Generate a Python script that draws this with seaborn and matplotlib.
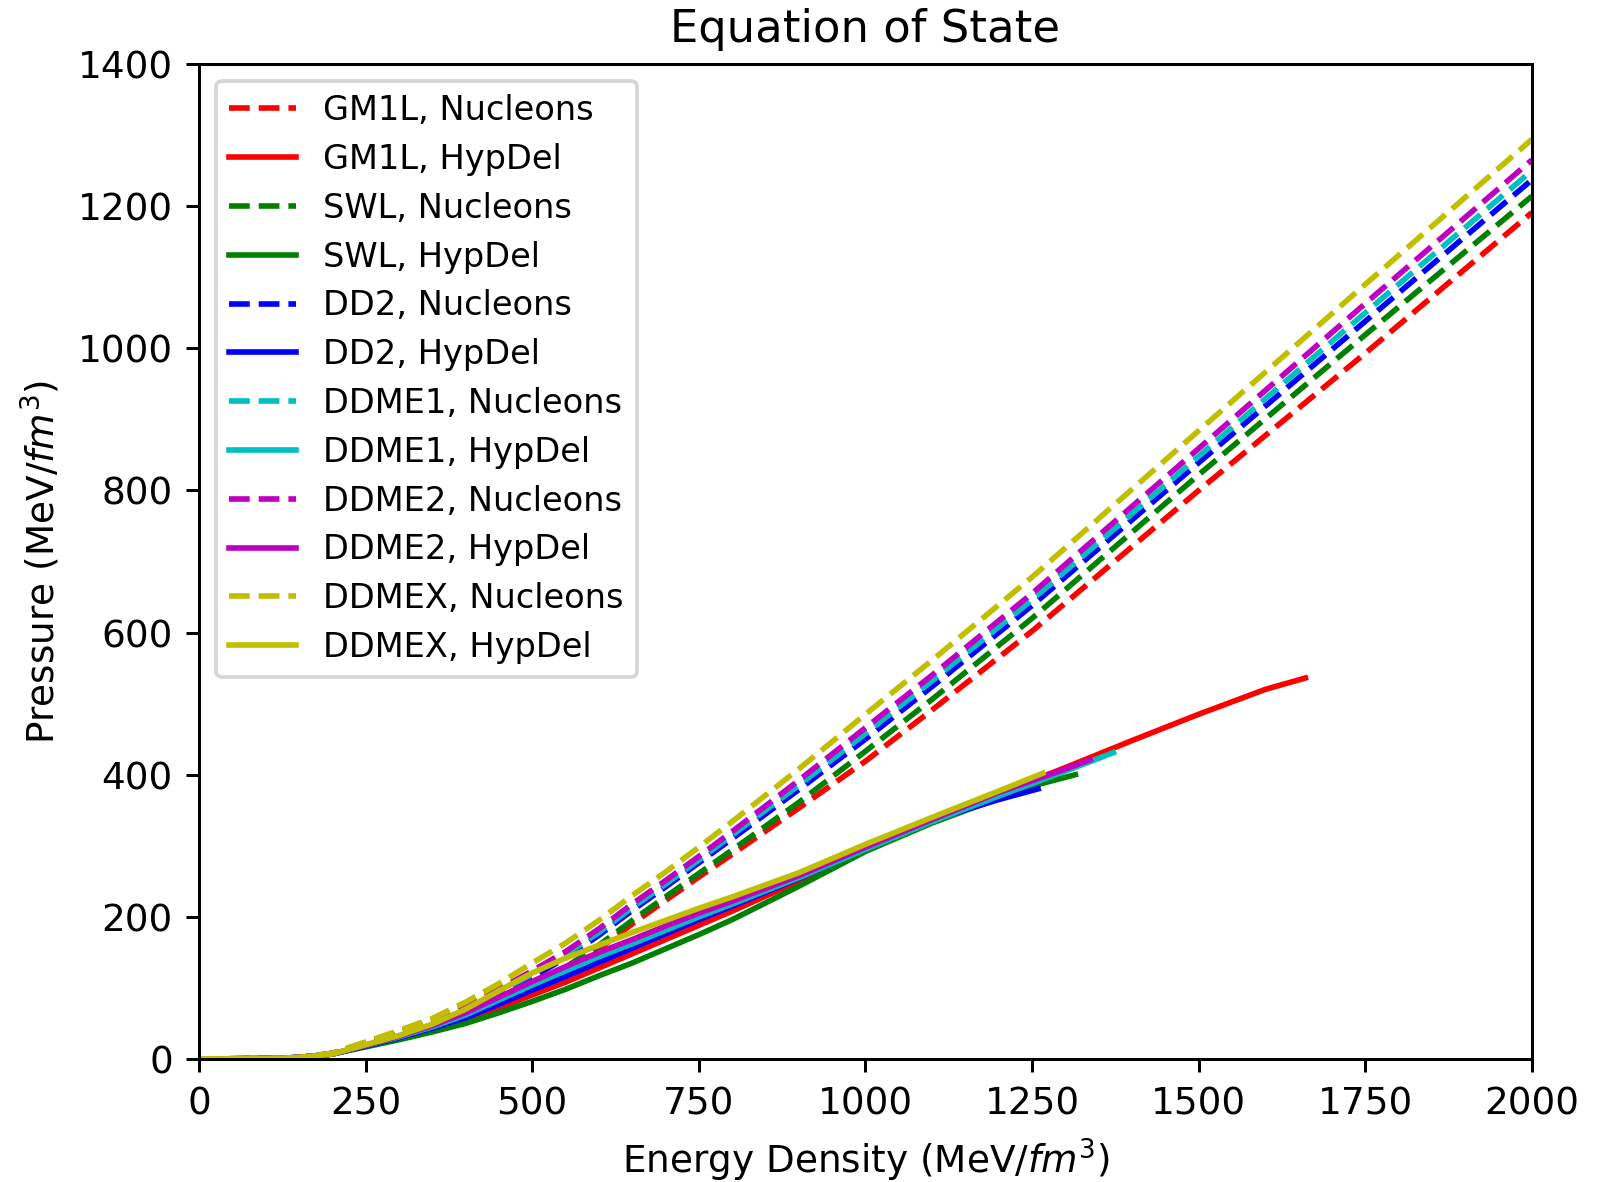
import matplotlib
matplotlib.use("Agg")
import matplotlib.pyplot as plt
import seaborn as sns
import pandas as pd

# Energy density grid for the pure-nucleon equations of state (MeV/fm^3)
eps_nuc = [0, 100, 150, 200, 250, 300, 350, 400, 450, 500, 550, 600, 650, 700,
           750, 800, 900, 1000, 1100, 1250, 1500, 1750, 2000]

# Pressure (MeV/fm^3), nucleons only
p_gm1l_nuc = [0, 0.5, 2, 7, 20, 33, 46, 62, 79, 98, 124, 155, 190, 223,
              256, 288, 353, 419, 491, 602, 800, 993, 1191]
p_swl_nuc = [0, 0.5, 2, 7, 21, 34, 48, 65, 83, 103, 129, 160, 195, 228,
             261, 294, 361, 433, 506, 620, 822, 1019, 1214]
p_dd2_nuc = [0, 0.5, 2, 7, 22, 36, 51, 70, 92, 115, 142, 174, 209, 242,
             276, 310, 379, 450, 524, 638, 839, 1038, 1237]
p_ddme1_nuc = [0, 0.5, 2, 8, 22, 37, 52, 72, 95, 119, 147, 178, 213, 246,
               280, 315, 385, 458, 532, 646, 848, 1050, 1250]
p_ddme2_nuc = [0, 0.5, 2, 8, 23, 38, 54, 75, 98, 124, 151, 183, 218, 251,
               285, 320, 392, 466, 540, 655, 859, 1063, 1265]
p_ddmex_nuc = [0, 0.5, 2, 8, 24, 40, 57, 80, 106, 135, 163, 195, 230, 263,
               298, 334, 408, 485, 561, 678, 884, 1090, 1294]

# Hyperons + Delta resonances: each EoS ends at its own maximum energy density
eps_gm1l_hd = [0, 100, 150, 200, 250, 300, 350, 400, 450, 500, 550, 600, 650, 700,
               750, 800, 900, 1000, 1100, 1200, 1300, 1400, 1500, 1600, 1660]
p_gm1l_hd = [0, 0.5, 2, 7, 18, 29, 41, 55, 72, 90, 108, 128, 148, 168,
             188, 208, 250, 295, 335, 373, 410, 448, 485, 520, 536]

eps_swl_hd = [0, 100, 150, 200, 250, 300, 350, 400, 450, 500, 550, 600, 650, 700,
              750, 800, 900, 1000, 1100, 1200, 1250, 1315]
p_swl_hd = [0, 0.5, 2, 7, 17, 27, 38, 50, 65, 81, 98, 117, 135, 155,
            175, 196, 243, 292, 332, 367, 384, 400]

eps_dd2_hd = [0, 100, 150, 200, 250, 300, 350, 400, 450, 500, 550, 600, 650, 700,
              750, 800, 900, 1000, 1100, 1200, 1259]
p_dd2_hd = [0, 0.5, 2, 7, 18, 30, 43, 58, 77, 97, 116, 136, 156, 176,
            196, 215, 254, 296, 336, 365, 380]

eps_ddme1_hd = [0, 100, 150, 200, 250, 300, 350, 400, 450, 500, 550, 600, 650, 700,
                750, 800, 900, 1000, 1100, 1200, 1300, 1372]
p_ddme1_hd = [0, 0.5, 2, 7, 19, 31, 45, 62, 83, 104, 124, 144, 162, 181,
              200, 218, 255, 295, 334, 370, 405, 431]

eps_ddme2_hd = [0, 100, 150, 200, 250, 300, 350, 400, 450, 500, 550, 600, 650, 700,
                750, 800, 900, 1000, 1100, 1200, 1300, 1337]
p_ddme2_hd = [0, 0.5, 2, 7, 19, 32, 47, 65, 87, 109, 130, 150, 168, 187,
              205, 222, 258, 298, 337, 375, 408, 421]

eps_ddmex_hd = [0, 100, 150, 200, 250, 300, 350, 400, 450, 500, 550, 600, 650, 700,
                750, 800, 900, 1000, 1100, 1200, 1266]
p_ddmex_hd = [0, 0.5, 2, 7, 20, 33, 49, 70, 96, 121, 142, 160, 178, 195,
              212, 228, 262, 302, 340, 377, 402]

models = ["GM1L", "SWL", "DD2", "DDME1", "DDME2", "DDMEX"]
colors = ["r", "g", "b", "c", "m", "y"]
nucleon_curves = [p_gm1l_nuc, p_swl_nuc, p_dd2_nuc, p_ddme1_nuc, p_ddme2_nuc, p_ddmex_nuc]
hypdel_curves = [
    (eps_gm1l_hd, p_gm1l_hd),
    (eps_swl_hd, p_swl_hd),
    (eps_dd2_hd, p_dd2_hd),
    (eps_ddme1_hd, p_ddme1_hd),
    (eps_ddme2_hd, p_ddme2_hd),
    (eps_ddmex_hd, p_ddmex_hd),
]

plt.rcParams["font.family"] = ["DejaVu Sans"]

DPI = 269
fig, ax = plt.subplots(figsize=(1606 / DPI, 1182 / DPI), dpi=DPI)
fig.subplots_adjust(left=0.1239, right=0.9539, bottom=0.1041, top=0.9459)

for name, col, p_nuc, (e_hd, p_hd) in zip(models, colors, nucleon_curves, hypdel_curves):
    df_n = pd.DataFrame({"eps": eps_nuc, "p": p_nuc})
    sns.lineplot(data=df_n, x="eps", y="p", ax=ax, color=col, linestyle="--",
                 linewidth=1.5, label=f"{name}, Nucleons", sort=False)
    df_h = pd.DataFrame({"eps": e_hd, "p": p_hd})
    sns.lineplot(data=df_h, x="eps", y="p", ax=ax, color=col, linestyle="-",
                 linewidth=1.5, label=f"{name}, HypDel", sort=False)

ax.set_xlim(0, 2000)
ax.set_ylim(0, 1400)
ax.set_title("Equation of State", fontsize=12)
ax.set_xlabel("Energy Density (MeV/$fm^3$)", fontsize=10)
ax.set_ylabel("Pressure (MeV/$fm^3$)", fontsize=10)
ax.tick_params(labelsize=10)
ax.legend(loc="upper left", fontsize=9, labelspacing=0.47)

fig.savefig("out.png", dpi=DPI)
